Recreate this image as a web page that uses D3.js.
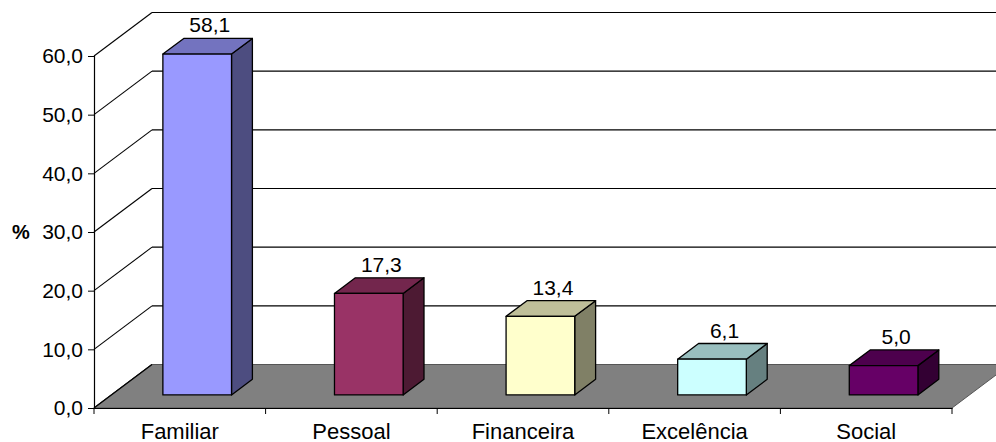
<!DOCTYPE html>
<html>
<head>
<meta charset="utf-8">
<script src="https://cdn.jsdelivr.net/npm/d3@7"></script>
<style>
  html, body { margin: 0; padding: 0; background: #fff; }
  svg { display: block; }
  text { font-family: "Liberation Sans", Arial, sans-serif; fill: #000; }
</style>
</head>
<body>
<svg id="chart" width="996" height="442"></svg>
<script>
// Motivos (%)
const categories = ["Familiar", "Pessoal", "Financeira", "Excelência", "Social"];
const values = [58.1, 17.3, 13.4, 6.1, 5.0];
const valueLabels = ["58,1", "17,3", "13,4", "6,1", "5,0"];
const frontColors = ["#9999FF", "#993366", "#FFFFCC", "#CCFFFF", "#660066"];
const yTicks = [0, 10, 20, 30, 40, 50, 60];
const yTickLabels = ["0,0", "10,0", "20,0", "30,0", "40,0", "50,0", "60,0"];
const yTitle = "%";

(function () {
  const svg = d3.select("#chart");
  const W = 996;

  // front plane of the 3D box
  const plotLeft = 94, plotRight = 952, plotBottom = 408, plotTop = 56;
  // depth vector from the front plane to the back wall
  const DX = 58, DY = -43.5;
  // bar placement within depth
  const f0 = 0.3, fd = 0.36;

  const x = d3.scaleBand().domain(categories).range([plotLeft, plotRight]);
  const y = d3.scaleLinear().domain([0, 60]).range([plotBottom, plotTop]);
  const barW = x.bandwidth() * 0.4;

  const shade = (c, k) => {
    const r = d3.rgb(c);
    return d3.rgb(r.r * k, r.g * k, r.b * k).formatHex();
  };
  const poly = pts => "M" + pts.map(p => p.join(",")).join("L") + "Z";

  const g = svg.append("g");

  // back wall gridlines
  g.selectAll("line.grid").data(yTicks.filter(t => t > 0)).join("line")
    .attr("class", "grid")
    .attr("x1", plotLeft + DX).attr("x2", W + 20)
    .attr("y1", d => y(d) + DY).attr("y2", d => y(d) + DY)
    .attr("stroke", "#000").attr("stroke-width", 1.2);

  // side wall diagonals
  g.selectAll("line.diag").data(yTicks).join("line")
    .attr("class", "diag")
    .attr("x1", plotLeft).attr("y1", d => y(d))
    .attr("x2", plotLeft + DX).attr("y2", d => y(d) + DY)
    .attr("stroke", "#000").attr("stroke-width", 1.1);

  // floor
  g.append("path")
    .attr("d", poly([[plotLeft, plotBottom], [plotRight, plotBottom], [plotRight + DX, plotBottom + DY], [plotLeft + DX, plotBottom + DY]]))
    .attr("fill", "#808080").attr("stroke", "#555").attr("stroke-width", 1);
  g.append("line")
    .attr("x1", plotLeft).attr("y1", plotBottom).attr("x2", plotLeft + DX).attr("y2", plotBottom + DY)
    .attr("stroke", "#000").attr("stroke-width", 1.1);

  // value axis
  const yAxis = d3.axisLeft(y).tickValues(yTicks).tickFormat((d, i) => yTickLabels[i]).tickSize(6).tickPadding(5);
  const ya = g.append("g").attr("transform", `translate(${plotLeft},0)`).call(yAxis);
  ya.select(".domain").attr("stroke", "#000").attr("stroke-width", 1.2);
  ya.selectAll(".tick line").attr("stroke", "#000");
  ya.selectAll(".tick text").attr("font-size", 21).attr("font-family", "Liberation Sans, Arial, sans-serif").attr("fill", "#000");

  // category axis
  const xAxis = d3.axisBottom(x).tickSize(0).tickPadding(15);
  const xa = g.append("g").attr("transform", `translate(0,${plotBottom})`).call(xAxis);
  xa.select(".domain").attr("stroke", "#000").attr("stroke-width", 1.2);
  xa.selectAll(".tick text").attr("font-size", 22).attr("font-family", "Liberation Sans, Arial, sans-serif").attr("fill", "#000");
  g.selectAll("line.xtick").data(categories.map(c => x(c)).concat([plotRight])).join("line")
    .attr("class", "xtick")
    .attr("x1", d => d).attr("x2", d => d)
    .attr("y1", plotBottom).attr("y2", plotBottom + 6)
    .attr("stroke", "#000");

  // axis title
  g.append("text").attr("x", 21).attr("y", y(30)).attr("dy", "0.35em")
    .attr("text-anchor", "middle").attr("font-size", 20).attr("font-weight", "bold").text(yTitle);

  // 3D bars
  const data = categories.map((c, i) => ({ c, v: values[i], label: valueLabels[i], color: frontColors[i] }));
  const ox = f0 * DX, oy = f0 * DY, bx = fd * DX, by = fd * DY;

  const bars = g.selectAll("g.bar").data(data).join("g").attr("class", "bar");
  bars.each(function (d) {
    const gx = d3.select(this);
    const x0 = x(d.c) + (x.bandwidth() - barW) / 2 + ox;
    const x1 = x0 + barW;
    const yb = y(0) + oy;
    const yt = y(d.v) + oy;
    // side face
    gx.append("path").attr("d", poly([[x1, yt], [x1 + bx, yt + by], [x1 + bx, yb + by], [x1, yb]]))
      .attr("fill", shade(d.color, 0.5)).attr("stroke", "#000").attr("stroke-width", 1.3).attr("stroke-linejoin", "round");
    // top face
    gx.append("path").attr("d", poly([[x0, yt], [x0 + bx, yt + by], [x1 + bx, yt + by], [x1, yt]]))
      .attr("fill", shade(d.color, 0.75)).attr("stroke", "#000").attr("stroke-width", 1.3).attr("stroke-linejoin", "round");
    // front face
    gx.append("path").attr("d", poly([[x0, yt], [x1, yt], [x1, yb], [x0, yb]]))
      .attr("fill", d.color).attr("stroke", "#000").attr("stroke-width", 1.3).attr("stroke-linejoin", "round");
    // value label
    gx.append("text")
      .attr("x", (x0 + x1) / 2 + bx * 0.6)
      .attr("y", yt + by - 6)
      .attr("text-anchor", "middle").attr("font-size", 21)
      .text(d.label);
  });
})();
</script>
</body>
</html>
